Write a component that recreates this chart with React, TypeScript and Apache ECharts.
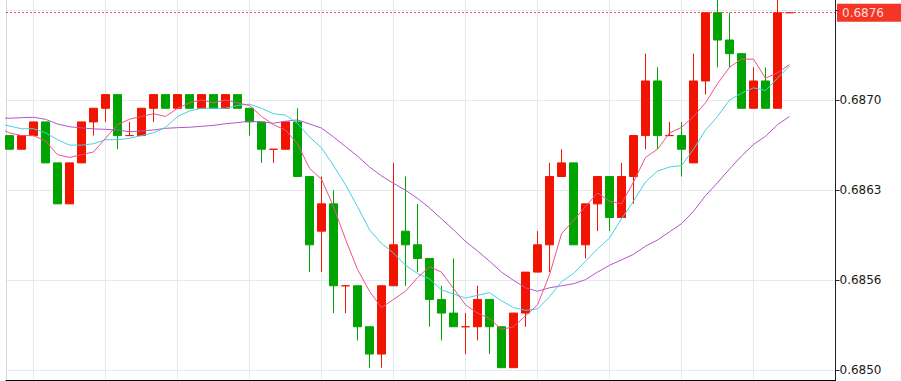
import React, { useEffect, useRef } from 'react';
import * as echarts from 'echarts';

// Candles (index 0 = first bar visible at the left edge)
const opens = [
  0.6867, 0.6866, 0.6867, 0.6868, 0.6865, 0.6862, 0.6865, 0.6868, 0.6869, 0.6870,
  0.6867, 0.6867, 0.6869, 0.6870, 0.6869, 0.6870, 0.6869, 0.6870, 0.6869, 0.6870,
  0.6869, 0.6868, 0.6866, 0.6866, 0.6868, 0.6864, 0.6860, 0.6862, 0.6856, 0.6856,
  0.6853, 0.6851, 0.6856, 0.6860, 0.6859, 0.6858, 0.6855, 0.6854, 0.6853, 0.6853,
  0.6855, 0.6853, 0.6850, 0.6854, 0.6857, 0.6859, 0.6864, 0.6865, 0.6859, 0.6862,
  0.6864, 0.6861, 0.6864, 0.6867, 0.6871, 0.6867, 0.6867, 0.6865, 0.6871, 0.6876,
  0.6874, 0.6873, 0.6869, 0.6871, 0.6869, 0.6876,
];
const closes = [
  0.6866, 0.6867, 0.6868, 0.6865, 0.6862, 0.6865, 0.6868, 0.6869, 0.6870, 0.6867,
  0.6867, 0.6869, 0.6870, 0.6869, 0.6870, 0.6869, 0.6870, 0.6869, 0.6870, 0.6869,
  0.6868, 0.6866, 0.6866, 0.6868, 0.6864, 0.6859, 0.6862, 0.6856, 0.6856, 0.6853,
  0.6851, 0.6856, 0.6859, 0.6859, 0.6858, 0.6855, 0.6854, 0.6853, 0.6853, 0.6855,
  0.6853, 0.6850, 0.6854, 0.6857, 0.6859, 0.6864, 0.6865, 0.6859, 0.6862, 0.6864,
  0.6861, 0.6864, 0.6867, 0.6871, 0.6867, 0.6867, 0.6866, 0.6871, 0.6876, 0.6874,
  0.6873, 0.6869, 0.6871, 0.6869, 0.6876, 0.6876,
];
const lows = [
  0.6866, 0.6866, 0.6867, 0.6865, 0.6862, 0.6862, 0.6865, 0.6867, 0.6868, 0.6866,
  0.6867, 0.6867, 0.6868, 0.6869, 0.6869, 0.6869, 0.6869, 0.6869, 0.6869, 0.6869,
  0.6867, 0.6865, 0.6865, 0.6866, 0.6864, 0.6857, 0.6857, 0.6854, 0.6854, 0.6852,
  0.6850, 0.6850, 0.6856, 0.6856, 0.6857, 0.6853, 0.6852, 0.6853, 0.6851, 0.6852,
  0.6851, 0.6850, 0.6850, 0.6853, 0.6857, 0.6857, 0.6864, 0.6859, 0.6858, 0.6860,
  0.6860, 0.6861, 0.6862, 0.6866, 0.6866, 0.6867, 0.6864, 0.6865, 0.6870, 0.6872,
  0.6872, 0.6869, 0.6869, 0.6869, 0.6869, 0.6876,
];
const highs = [
  0.6867, 0.6867, 0.6868, 0.6868, 0.6865, 0.6865, 0.6868, 0.6869, 0.6870, 0.6870,
  0.6868, 0.6869, 0.6870, 0.6870, 0.6870, 0.6870, 0.6870, 0.6870, 0.6870, 0.6870,
  0.6869, 0.6868, 0.6866, 0.6868, 0.6869, 0.6864, 0.6864, 0.6863, 0.6856, 0.6856,
  0.6853, 0.6856, 0.6865, 0.6864, 0.6862, 0.6858, 0.6856, 0.6858, 0.6854, 0.6856,
  0.6855, 0.6853, 0.6854, 0.6857, 0.6860, 0.6865, 0.6866, 0.6865, 0.6862, 0.6864,
  0.6864, 0.6865, 0.6867, 0.6873, 0.6872, 0.6868, 0.6868, 0.6873, 0.6876, 0.6878,
  0.6876, 0.6873, 0.6872, 0.6872, 0.6878, 0.6876,
];

// Moving averages; first value belongs to the bar before index 0
const MA_START_INDEX = -1;
const ma5 = [
  0.68676, 0.68672, 0.68670, 0.68670, 0.68666, 0.68656, 0.68654, 0.68656, 0.68658, 0.68668,
  0.68678, 0.68682, 0.68684, 0.68686, 0.68684, 0.68690, 0.68694, 0.68696, 0.68694, 0.68696,
  0.68694, 0.68692, 0.68684, 0.68678, 0.68674, 0.68664, 0.68646, 0.68638, 0.68618, 0.68594,
  0.68572, 0.68556, 0.68544, 0.68550, 0.68556, 0.68566, 0.68574, 0.68570, 0.68558, 0.68546,
  0.68540, 0.68536, 0.68528, 0.68530, 0.68538, 0.68546, 0.68568, 0.68598, 0.68608, 0.68618,
  0.68628, 0.68622, 0.68620, 0.68636, 0.68654, 0.68660, 0.68672, 0.68676, 0.68684, 0.68694,
  0.68708, 0.68720, 0.68726, 0.68726, 0.68712, 0.68716, 0.68722,
];
const ma10 = [
  0.68679, 0.68677, 0.68675, 0.68675, 0.68672, 0.68667, 0.68663, 0.68663, 0.68664, 0.68667,
  0.68667, 0.68668, 0.68670, 0.68672, 0.68676, 0.68684, 0.68688, 0.68690, 0.68690, 0.68690,
  0.68692, 0.68693, 0.68690, 0.68686, 0.68685, 0.68679, 0.68669, 0.68661, 0.68648, 0.68634,
  0.68618, 0.68601, 0.68591, 0.68584, 0.68575, 0.68569, 0.68565, 0.68557, 0.68554, 0.68551,
  0.68553, 0.68555, 0.68549, 0.68544, 0.68542, 0.68543, 0.68552, 0.68563, 0.68569, 0.68578,
  0.68587, 0.68595, 0.68609, 0.68622, 0.68636, 0.68644, 0.68647, 0.68648, 0.68660, 0.68674,
  0.68684, 0.68696, 0.68701, 0.68705, 0.68703, 0.68712, 0.68721,
];
const ma20 = [
  0.686830, 0.686827, 0.686831, 0.686834, 0.686819, 0.686785, 0.686765, 0.686756, 0.686749, 0.686746,
  0.686741, 0.686728, 0.686734, 0.686741, 0.686753, 0.686758, 0.686761, 0.686768, 0.686775, 0.686787,
  0.686795, 0.686805, 0.686800, 0.686790, 0.686805, 0.686815, 0.686785, 0.686755, 0.686690, 0.686620,
  0.686550, 0.686470, 0.686405, 0.686350, 0.686300, 0.686240, 0.686170, 0.686090, 0.686010, 0.685925,
  0.685855, 0.685780, 0.685700, 0.685640, 0.685585, 0.685560, 0.685585, 0.685600, 0.685615, 0.685645,
  0.685700, 0.685750, 0.685790, 0.685830, 0.685890, 0.685935, 0.685995, 0.686055, 0.686145, 0.686260,
  0.686355, 0.686455, 0.686550, 0.686635, 0.686695, 0.686780, 0.686840,
];

// Bars where the time grid lines fall
const timeGridBars = [2, 8, 14, 20, 26, 32, 38, 44, 50, 56, 62];
// Price ticks of the right axis and the labels shown for them
const yTickValues = [0.68498, 0.685639, 0.686299, 0.686958, 0.687617];
const yTickLabels = ['0.6850', '0.6856', '0.6863', '0.6870'];

const RED = '#f11400';
const GREEN = '#00a400';
const GRID_COLOR = '#e3eaf0';

const X_MIN = -0.29167;
const X_MAX = 68.8333;
const Y_MIN = 0.6849099;
const Y_MAX = 0.687693;
const Y_STEP = 0.68498 / 1039;

export default function App() {
  const ref = useRef<HTMLDivElement>(null);

  useEffect(() => {
    if (!ref.current) return;
    const chart = echarts.init(ref.current, null, { renderer: 'svg' });

    const candleData = opens.map((o, i) => [i, o, closes[i], lows[i], highs[i]]);
    const maData = (arr: number[]) => arr.map((v, j) => [j + MA_START_INDEX, v]);
    const lastClose = closes[closes.length - 1];

    const option: any = {
      animation: false,
      backgroundColor: '#ffffff',
      grid: { left: 6, right: 65.5, top: 0, bottom: 1, containLabel: false },
      xAxis: {
        type: 'value',
        min: X_MIN,
        max: X_MAX,
        axisLine: { show: true, onZero: false, lineStyle: { color: '#000', width: 1 } },
        axisTick: { show: false },
        axisLabel: { show: false },
        splitLine: { show: false },
      },
      yAxis: [
        {
          type: 'value',
          position: 'right',
          min: Y_MIN,
          max: Y_MAX,
          minInterval: Y_STEP,
          maxInterval: Y_STEP,
          axisLine: { show: true, onZero: false, lineStyle: { color: '#222', width: 1 } },
          axisTick: {
            show: true,
            length: 4,
            customValues: yTickValues,
            lineStyle: { color: '#222' },
          },
          axisLabel: {
            show: true,
            margin: 4,
            color: '#1a1a1a',
            fontSize: 12,
            fontFamily: 'DejaVu Sans',
            customValues: yTickValues,
            formatter: (v: number) => {
              const s = v.toFixed(4);
              return yTickLabels.includes(s) ? s : '';
            },
          },
          splitLine: { show: true, lineStyle: { color: GRID_COLOR, width: 1 } },
        },
        {
          type: 'value',
          position: 'left',
          min: Y_MIN,
          max: Y_MAX,
          axisLine: { show: true, onZero: false, lineStyle: { color: '#d6d6d6', width: 1 } },
          axisTick: { show: false },
          axisLabel: { show: false },
          splitLine: { show: false },
        },
      ],
      series: [
        {
          type: 'line',
          data: [],
          silent: true,
          yAxisIndex: 0,
          markLine: {
            z: 1,
            silent: true,
            symbol: ['none', 'none'],
            label: { show: false },
            lineStyle: { color: GRID_COLOR, width: 1, type: 'solid' },
            data: timeGridBars.map((b) => ({ xAxis: b })),
          },
        },
        {
          type: 'candlestick',
          z: 3,
          yAxisIndex: 0,
          barWidth: 8,
          silent: true,
          data: candleData,
          itemStyle: {
            color: RED,
            color0: GREEN,
            borderColor: RED,
            borderColor0: GREEN,
            borderColorDoji: RED,
            borderWidth: 1,
          },
        },
        {
          type: 'line',
          name: 'MA20',
          z: 4,
          yAxisIndex: 0,
          data: maData(ma20),
          symbol: 'none',
          silent: true,
          lineStyle: { color: '#b455c8', width: 1 },
        },
        {
          type: 'line',
          name: 'MA10',
          z: 4,
          yAxisIndex: 0,
          data: maData(ma10),
          symbol: 'none',
          silent: true,
          lineStyle: { color: '#45d0e2', width: 1 },
        },
        {
          type: 'line',
          name: 'MA5',
          z: 4,
          yAxisIndex: 0,
          data: maData(ma5),
          symbol: 'none',
          silent: true,
          lineStyle: { color: '#f0508c', width: 1 },
        },
        {
          type: 'line',
          name: 'last',
          data: [],
          silent: true,
          yAxisIndex: 0,
          markLine: {
            z: 6,
            silent: true,
            precision: 6,
            symbol: ['none', 'none'],
            lineStyle: { color: '#f23030', type: [2, 2], width: 1, opacity: 0.85 },
            label: {
              show: true,
              position: 'end',
              distance: 1.5,
              formatter: (p: any) => Number(p.value).toFixed(4),
              color: '#ffffff',
              backgroundColor: RED,
              padding: [2, 20, 2, 5],
              fontSize: 12,
              lineHeight: 14,
              fontFamily: 'DejaVu Sans',
            },
            data: [{ yAxis: lastClose }],
          },
        },
      ],
    };

    chart.setOption(option);
    return () => chart.dispose();
  }, []);

  return (
    <div
      ref={ref}
      style={{ position: 'absolute', left: 0, top: 0, width: 901, height: 381 }}
    />
  );
}
